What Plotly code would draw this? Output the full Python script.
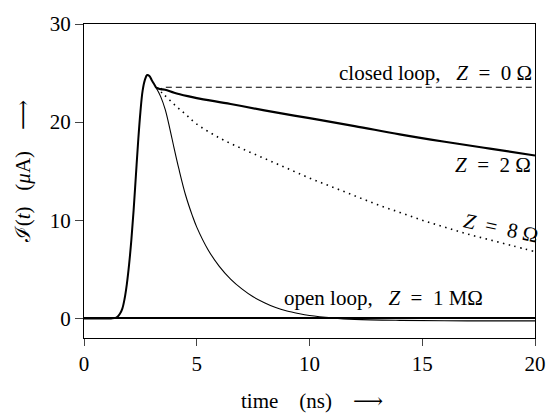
import plotly.graph_objects as go

# shared rising pulse (ns, µA)
rise_t = [0, 1.2, 1.4, 1.5, 1.6, 1.7, 1.8, 1.9, 2.0, 2.1, 2.2, 2.3, 2.4, 2.5, 2.6, 2.7, 2.8, 2.9, 3.0, 3.1, 3.2]
rise_i = [0, 0, 0.05, 0.2, 0.5, 1.0, 2.0, 3.5, 5.5, 8.0, 11.0, 14.5, 18.0, 21.0, 23.2, 24.3, 24.8, 24.7, 24.3, 23.9, 23.5]

# closed loop, Z = 0 Ω
z0_t = [3.2, 3.4, 3.6, 5, 10, 15, 20]
z0_i = [23.5, 23.4, 23.55, 23.55, 23.55, 23.55, 23.55]

# Z = 2 Ω
z2_t = [3.2, 3.4, 3.6, 4.0, 4.6, 5.0, 6.5, 8.0, 10, 12, 14, 16, 18, 20]
z2_i = [23.5, 23.35, 23.3, 23.0, 22.65, 22.45, 21.85, 21.2, 20.4, 19.6, 18.75, 18.0, 17.3, 16.6]

# Z = 8 Ω
z8_t = [3.2, 3.5, 4.0, 4.5, 5, 6, 7, 8, 9, 10, 11, 12, 13, 14, 15, 16, 17, 18, 19, 20]
z8_i = [23.5, 22.9, 21.8, 20.8, 19.8, 18.4, 17.3, 16.3, 15.3, 14.3, 13.4, 12.5, 11.6, 10.8, 10.0, 9.3, 8.6, 8.0, 7.4, 6.8]

# open loop, Z = 1 MΩ
open_t = [3.2, 3.4, 3.6, 3.8, 4.0, 4.2, 4.5, 4.8, 5.0, 5.5, 6.0, 6.5, 7.0, 7.5, 8.0, 8.5, 9.0, 9.5, 10, 11, 12, 14, 17, 20]
open_i = [23.5, 22.6, 21.3, 19.4, 17.3, 15.3, 12.6, 10.5, 9.3, 7.0, 5.3, 4.0, 3.0, 2.2, 1.6, 1.1, 0.75, 0.5, 0.3, 0.05, -0.1, -0.2, -0.25, -0.25]

x_ticks = [0, 5, 10, 15, 20]
y_ticks = [0, 10, 20, 30]

FONT = "'Liberation Serif', 'DejaVu Serif', serif"
FS = 21

fig = go.Figure()
fig.add_trace(go.Scatter(x=rise_t, y=rise_i, mode="lines", line=dict(color="black", width=2), line_shape="spline"))
fig.add_trace(go.Scatter(x=open_t, y=open_i, mode="lines", line=dict(color="black", width=1.1), line_shape="spline"))
fig.add_trace(go.Scatter(x=z8_t, y=z8_i, mode="lines", line=dict(color="black", width=1.6, dash="1.5px,4.5px"), line_shape="spline"))
fig.add_trace(go.Scatter(x=z0_t, y=z0_i, mode="lines", line=dict(color="black", width=1.1, dash="6px,4px")))
fig.add_trace(go.Scatter(x=z2_t, y=z2_i, mode="lines", line=dict(color="black", width=2.2), line_shape="spline"))

fig.update_layout(
    width=558, height=419,
    margin=dict(l=84, r=13, t=14, b=81),
    paper_bgcolor="white", plot_bgcolor="white",
    showlegend=False,
    font=dict(family=FONT, size=FS, color="black"),
)
fig.update_xaxes(range=[0, 20], tickvals=x_ticks, ticks="outside", ticklen=7, tickwidth=1,
                 showline=True, linecolor="black", linewidth=1.2, mirror=True,
                 showgrid=False, zeroline=False, tickfont=dict(family=FONT, size=FS))
fig.update_yaxes(range=[-2, 30], tickvals=y_ticks, ticks="outside", ticklen=8, tickwidth=1,
                 showline=True, linecolor="black", linewidth=1.2, mirror=True,
                 showgrid=False, zeroline=True, zerolinecolor="black", zerolinewidth=2,
                 tickfont=dict(family=FONT, size=FS))

ann = dict(showarrow=False, font=dict(family=FONT, size=FS, color="black"))
fig.add_annotation(x=19.95, y=25.0, text="closed loop,   <i>Z</i>  =  0 Ω", xanchor="right", yanchor="middle", **ann)
fig.add_annotation(x=19.9, y=15.6, text="<i>Z</i>  =  2 Ω", xanchor="right", yanchor="middle", **ann)
fig.add_annotation(x=18.5, y=9.2, text="<i>Z</i>  =  8 Ω", xanchor="center", yanchor="middle", textangle=12, **ann)
fig.add_annotation(x=13.3, y=2.1, text="open loop,   <i>Z</i>  =  1 MΩ", xanchor="center", yanchor="middle", **ann)
fig.add_annotation(x=0.505, y=-0.2, xref="paper", yref="paper", text="time    (ns)    ⟶",
                   xanchor="center", yanchor="middle", **ann)
fig.add_annotation(x=-0.136, y=0.53, xref="paper", yref="paper", text="ℐ(<i>t</i>)   (<i>μ</i>A)    ⟶",
                   xanchor="center", yanchor="middle", textangle=-90, **ann)

fig.write_html("out.html")
